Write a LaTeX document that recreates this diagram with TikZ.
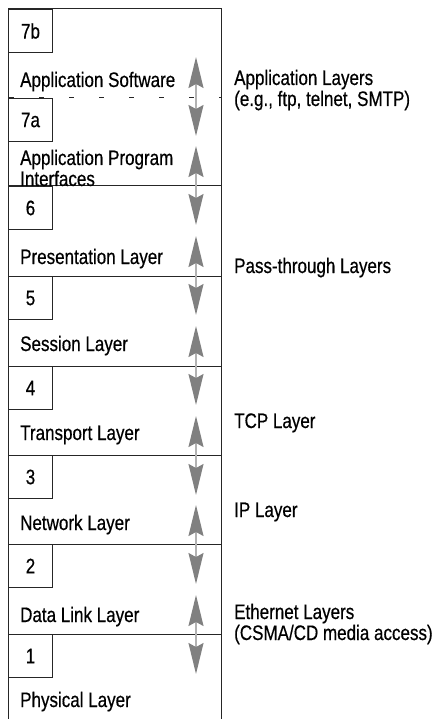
\documentclass[tikz,border=0pt]{standalone}
\usepackage{fontspec}
\setmainfont{Liberation Sans}[FakeStretch=0.81, FakeBold=0.5]
\usetikzlibrary{arrows.meta, positioning}

\begin{document}
\begin{tikzpicture}[
  x=1pt, y=-1pt,
  frame/.style={draw=black!85, line width=1pt},
  numbox/.style={
    rectangle, draw=black!85, fill=white, line width=1pt,
    minimum width=44pt, minimum height=43pt, inner sep=0pt,
    anchor=north west, font=\fontsize{21}{21}\selectfont
  },
  layername/.style={anchor=base west, inner sep=0pt, align=left, font=\fontsize{21}{21}\selectfont},
  sidenote/.style={anchor=base west, inner sep=0pt, align=left, font=\fontsize{21}{21}\selectfont},
  flow/.style={
    {Stealth[length=31pt, width=15pt, inset=4pt, color=black!50]}-{Stealth[length=31pt, width=15pt, inset=4pt, color=black!50]},
    draw=black!30, line width=1.5pt
  },
]
\useasboundingbox (0,0) rectangle (439,719);

% stack outline, open at the bottom
\draw[frame] (8,719) -- (8,9) -- (221,9) -- (221,719);
\draw[frame, dash pattern=on 5pt off 25pt, dash phase=-1pt] (8,98) -- (221,98);
\draw[frame] (8,186) -- (221,186);
\draw[frame] (8,276) -- (221,276);
\draw[frame] (8,366) -- (221,366);
\draw[frame] (8,455) -- (221,455);
\draw[frame] (8,544) -- (221,544);
\draw[frame] (8,634) -- (221,634);

% layer numbers
\node[numbox] (n7b) at (8,9) {7b};
\node[numbox] (n7a) at (8,98) {7a};
\node[numbox] (n6) at (8,186) {6};
\node[numbox] (n5) at (8,276) {5};
\node[numbox] (n4) at (8,366) {4};
\node[numbox] (n3) at (8,455) {3};
\node[numbox] (n2) at (8,544) {2};
\node[numbox] (n1) at (8,634) {1};

% layer names (base = last line)
\node[layername] (app) at (20,87) {Application Software};
\node[layername] (api) at (20,186) {Application Program\\Interfaces};
\node[layername] (pres) at (20,264) {Presentation Layer};
\node[layername] (sess) at (20,351) {Session Layer};
\node[layername] (trans) at (20,440) {Transport Layer};
\node[layername] (net) at (20,530) {Network Layer};
\node[layername] (dlink) at (20,622) {Data Link Layer};
\node[layername] (phys) at (20,707) {Physical Layer};

% protocol groups
\node[sidenote] (grpapp) at (234,106) {Application Layers\\(e.g., ftp, telnet, SMTP)};
\node[sidenote] (grppass) at (234,273) {Pass-through Layers};
\node[sidenote] (grptcp) at (234,428) {TCP Layer};
\node[sidenote] (grpip) at (234,517) {IP Layer};
\node[sidenote] (grpeth) at (234,640) {Ethernet Layers\\(CSMA/CD media access)};

% arrow ends across each layer boundary
\coordinate (f1a) at (196,57);  \coordinate (f1b) at (196,136);
\coordinate (f2a) at (196,146); \coordinate (f2b) at (196,225);
\coordinate (f3a) at (196,236); \coordinate (f3b) at (196,315);
\coordinate (f4a) at (196,326); \coordinate (f4b) at (196,405);
\coordinate (f5a) at (196,416); \coordinate (f5b) at (196,495);
\coordinate (f6a) at (196,505); \coordinate (f6b) at (196,584);
\coordinate (f7a) at (196,595); \coordinate (f7b) at (196,674);

\draw[flow] (f1a) -- (f1b);
\draw[flow] (f2a) -- (f2b);
\draw[flow] (f3a) -- (f3b);
\draw[flow] (f4a) -- (f4b);
\draw[flow] (f5a) -- (f5b);
\draw[flow] (f6a) -- (f6b);
\draw[flow] (f7a) -- (f7b);
\end{tikzpicture}
\end{document}
